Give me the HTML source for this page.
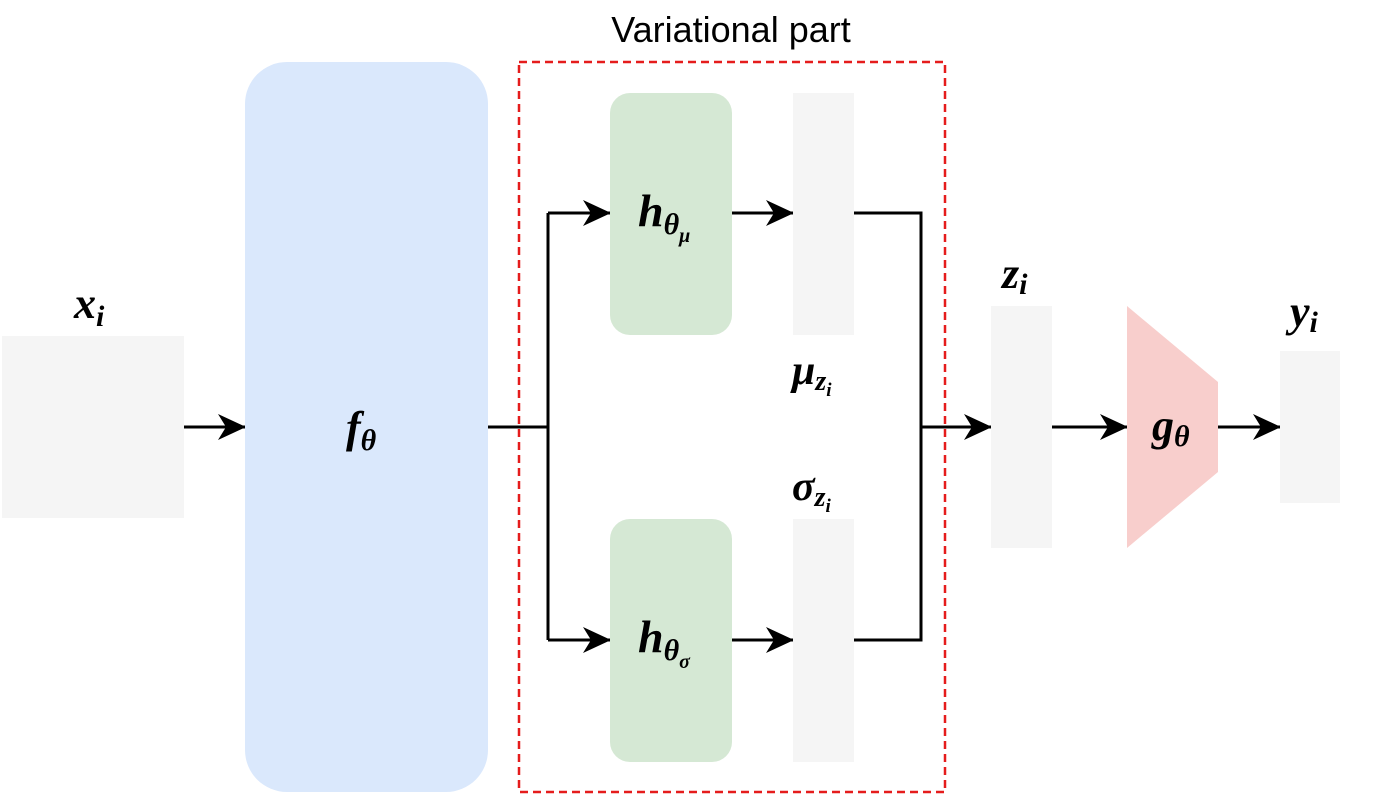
<!DOCTYPE html>
<html><head><meta charset="utf-8"><style>
html,body{margin:0;padding:0;background:#fff;}
svg{display:block;}
.m{font-family:"Liberation Serif",serif;font-style:italic;fill:#000;font-weight:bold;}
</style></head><body>
<svg width="1400" height="797" viewBox="0 0 1400 797" xmlns="http://www.w3.org/2000/svg">
<defs>
<marker id="ah" viewBox="0 0 28 28" refX="27" refY="14" markerWidth="28" markerHeight="28" markerUnits="userSpaceOnUse" orient="auto">
<path d="M0,1 L28,14 L0,27 L8,14 Z" fill="#000"/>
</marker>
</defs>
<g><rect x="2" y="336" width="182" height="182" fill="#f5f5f5"/></g>
<text class="m" x="74" y="318" font-size="44">x<tspan font-size="30" dy="8">i</tspan></text>

<line x1="184" y1="427" x2="245" y2="427" stroke="#000" stroke-width="3" marker-end="url(#ah)"/>

<rect x="245" y="62" width="243" height="730" rx="42" fill="#dae8fc"/>
<text class="m" x="346" y="442" font-size="44">f<tspan font-size="30" dy="8">θ</tspan></text>

<rect x="519" y="62" width="426" height="730" fill="none" stroke="#e51c1c" stroke-width="2.5" stroke-dasharray="8,5"/>
<text x="731" y="42" font-family="'Liberation Sans',sans-serif" font-size="36" text-anchor="middle">Variational part</text>

<path d="M488,427 H548 M548,213 V640" stroke="#000" stroke-width="3" fill="none"/>
<line x1="548" y1="213" x2="610" y2="213" stroke="#000" stroke-width="3" marker-end="url(#ah)"/>
<line x1="548" y1="640" x2="610" y2="640" stroke="#000" stroke-width="3" marker-end="url(#ah)"/>

<rect x="610" y="93" width="122" height="242" rx="20" fill="#d5e8d4"/>
<text class="m" x="638" y="226" font-size="46">h<tspan font-size="30" dy="8">θ</tspan><tspan font-size="20" dy="8">μ</tspan></text>
<rect x="610" y="519" width="122" height="243" rx="20" fill="#d5e8d4"/>
<text class="m" x="638" y="652" font-size="46">h<tspan font-size="30" dy="8">θ</tspan><tspan font-size="20" dy="8">σ</tspan></text>

<line x1="732" y1="213" x2="793" y2="213" stroke="#000" stroke-width="3" marker-end="url(#ah)"/>
<line x1="732" y1="640" x2="793" y2="640" stroke="#000" stroke-width="3" marker-end="url(#ah)"/>

<rect x="793" y="93" width="61" height="242" fill="#f5f5f5"/>
<rect x="793" y="519" width="61" height="243" fill="#f5f5f5"/>
<text class="m" x="792" y="384" font-size="42">μ<tspan font-size="28" dy="6">z</tspan><tspan font-size="19" dy="6">i</tspan></text>
<text class="m" x="792" y="500" font-size="42">σ<tspan font-size="28" dy="6">z</tspan><tspan font-size="19" dy="6">i</tspan></text>

<path d="M854,213 H921 V640 H854" stroke="#000" stroke-width="3" fill="none"/>
<line x1="921" y1="427" x2="991" y2="427" stroke="#000" stroke-width="3" marker-end="url(#ah)"/>

<rect x="991" y="306" width="61" height="242" fill="#f5f5f5"/>
<text class="m" x="1002" y="288" font-size="44">z<tspan font-size="30" dy="6">i</tspan></text>

<line x1="1052" y1="427" x2="1127" y2="427" stroke="#000" stroke-width="3" marker-end="url(#ah)"/>
<polygon points="1127,306 1218,382 1218,472 1127,548" fill="#f8cecc"/>
<text class="m" x="1152" y="440" font-size="44">g<tspan font-size="30" dy="6">θ</tspan></text>

<line x1="1218" y1="427" x2="1280" y2="427" stroke="#000" stroke-width="3" marker-end="url(#ah)"/>
<rect x="1280" y="351" width="60" height="152" fill="#f5f5f5"/>
<text class="m" x="1290" y="326" font-size="44">y<tspan font-size="30" dy="6">i</tspan></text>
</svg>
</body></html>
